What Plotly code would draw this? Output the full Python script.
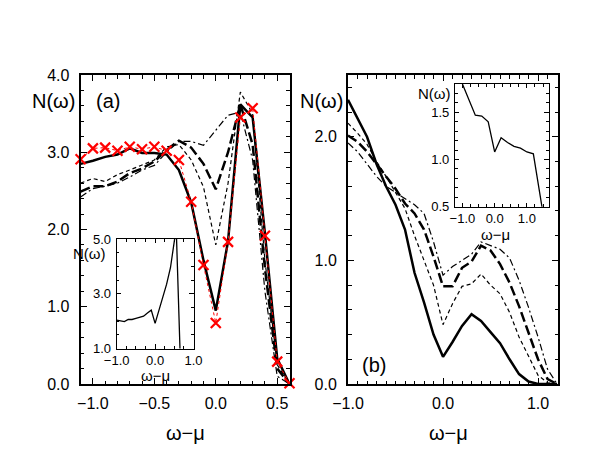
import plotly.graph_objects as go

# panel (a): omega - mu grid and spectral functions
x_a = [-1.1, -1.0, -0.9, -0.8, -0.7, -0.6, -0.5, -0.4, -0.3, -0.2,
       -0.1, 0.0, 0.1, 0.2, 0.3, 0.4, 0.5, 0.6]
a_solid = [2.85, 2.89, 2.94, 2.97, 3.05, 2.99, 2.99, 2.97, 2.77, 2.35,
           1.60, 0.95, 1.85, 3.62, 3.45, 1.95, 0.33, 0.0]
a_longdash = [2.49, 2.56, 2.56, 2.62, 2.73, 2.79, 2.88, 3.03, 3.15, 3.06,
              2.85, 2.52, 3.00, 3.62, 3.10, 1.50, 0.20, 0.0]
a_dash = [2.60, 2.66, 2.62, 2.71, 2.77, 2.83, 2.90, 3.07, 3.10, 2.90,
          2.55, 1.80, 2.60, 3.78, 3.50, 1.60, 0.25, 0.0]
a_dashdot = [2.42, 2.53, 2.56, 2.60, 2.68, 2.77, 2.83, 3.00, 3.14, 3.14,
             3.09, 3.28, 3.48, 3.52, 2.90, 1.20, 0.10, 0.0]
a_cross = [2.91, 3.05, 3.06, 3.02, 3.07, 3.04, 3.07, 3.02, 2.90, 2.36,
           1.54, 0.79, 1.84, 3.45, 3.57, 1.92, 0.29, 0.01]

# inset of (a)
x_ai = [-1.0, -0.9, -0.8, -0.7, -0.6, -0.5, -0.4, -0.3, -0.2, -0.1,
        0.0, 0.1, 0.2, 0.3, 0.4, 0.5, 0.55, 0.65]
y_ai = [2.04, 2.01, 1.98, 2.06, 2.06, 2.10, 2.14, 2.18, 2.30, 2.40,
        1.92, 2.40, 2.85, 3.35, 3.95, 4.95, 5.40, 0.90]

# panel (b)
x_b = [-1.0, -0.9, -0.8, -0.7, -0.6, -0.5, -0.4, -0.3, -0.2, -0.1, 0.0,
       0.1, 0.2, 0.3, 0.4, 0.5, 0.6, 0.7, 0.8, 0.9, 1.0, 1.1, 1.2]
b_solid = [2.30, 2.15, 2.00, 1.78, 1.60, 1.45, 1.25, 0.90, 0.66, 0.40, 0.22,
           0.34, 0.47, 0.565, 0.51, 0.42, 0.33, 0.20, 0.08, 0.02, 0.0, 0.0, 0.0]
b_dash = [2.11, 2.03, 1.94, 1.80, 1.68, 1.55, 1.42, 1.20, 1.00, 0.80, 0.48,
          0.65, 0.79, 0.81, 0.89, 0.80, 0.73, 0.58, 0.38, 0.22, 0.07, 0.01, 0.0]
b_longdash = [2.01, 1.96, 1.88, 1.78, 1.68, 1.58, 1.46, 1.38, 1.25, 1.03, 0.79,
              0.79, 0.94, 0.99, 1.12, 1.08, 0.97, 0.82, 0.63, 0.42, 0.20, 0.04, 0.0]
b_dashdot = [1.95, 1.88, 1.78, 1.68, 1.60, 1.55, 1.50, 1.45, 1.38, 1.15, 0.88,
             0.95, 1.00, 1.05, 1.15, 1.12, 1.09, 1.02, 0.84, 0.62, 0.38, 0.12, 0.0]

# inset of (b)
x_bi = [-1.0, -0.8, -0.6, -0.4, -0.2, 0.0, 0.2, 0.4, 0.6, 0.8, 1.0, 1.2, 1.4, 1.5]
y_bi = [1.80, 1.64, 1.47, 1.46, 1.40, 1.08, 1.23, 1.18, 1.14, 1.12, 1.08, 1.06, 0.64, 0.43]

# tick labels
ticks_a_x = [-1.0, -0.5, 0.0, 0.5]
ticks_a_y = [0.0, 1.0, 2.0, 3.0, 4.0]
ticks_b_x = [-1.0, 0.0, 1.0]
ticks_b_y = [0.0, 1.0, 2.0]
ticks_ai_x = [-1.0, 0.0, 1.0]
ticks_ai_y = [1.0, 3.0, 5.0]
ticks_bi_x = [-1.0, 0.0, 1.0]
ticks_bi_y = [0.5, 1.0, 1.5]

FONT = "Liberation Sans, Arial, sans-serif"
OFF = 8  # page body margin
W, H = 599 - OFF, 463 - OFF

fig = go.Figure()


def px_x(p):
    return (p - OFF) / W


def px_y(p):
    return 1 - (p - OFF) / H


def line(x, y, xa, ya, width, dash="solid", color="black"):
    fig.add_trace(go.Scatter(x=x, y=y, xaxis=xa, yaxis=ya, mode="lines",
                             line=dict(color=color, width=width, dash=dash),
                             showlegend=False, hoverinfo="skip"))


# panel (a)
line(x_a, a_dashdot, "x", "y", 1.2, "7px,3px,2px,3px")
line(x_a, a_dash, "x", "y", 1.2, "4px,3px")
line(x_a, a_longdash, "x", "y", 2.5, "10px,4px")
line(x_a, a_solid, "x", "y", 2.5)
fig.add_trace(go.Scatter(
    x=x_a, y=a_cross, xaxis="x", yaxis="y", mode="lines+markers",
    line=dict(color="red", width=1, dash="dot"),
    marker=dict(symbol="x-thin", size=10, line=dict(color="red", width=2.2)),
    showlegend=False, cliponaxis=False, hoverinfo="skip"))

# panel (b)
line(x_b, b_dashdot, "x2", "y2", 1.2, "7px,3px,2px,3px")
line(x_b, b_dash, "x2", "y2", 1.2, "4px,3px")
line(x_b, b_longdash, "x2", "y2", 2.5, "10px,4px")
line(x_b, b_solid, "x2", "y2", 2.5)

# insets
line(x_ai, y_ai, "x3", "y3", 1.3)
line(x_bi, y_bi, "x4", "y4", 1.3)


def axis(domain, rng, tickvals, anchor, size, lw, ticklen, standoff):
    return dict(domain=domain, range=rng, tickvals=tickvals,
                ticktext=[f"{v:.1f}".replace("-", "\u2212") for v in tickvals],
                anchor=anchor, automargin=False, showgrid=False, zeroline=False,
                showline=True, linecolor="black", linewidth=lw, mirror="allticks",
                ticks="inside", ticklen=ticklen, tickwidth=1, tickcolor="black",
                ticklabelstandoff=standoff,
                tickfont=dict(family=FONT, size=size, color="black"))


def minor_axis(overlay, anchor, rng, dtick, ticklen):
    # unlabeled companion axis carrying the minor ticks on all sides
    return dict(overlaying=overlay, anchor=anchor, range=rng, dtick=dtick, tick0=0,
                automargin=False, showgrid=False, zeroline=False, showline=False,
                showticklabels=False, mirror="ticks", ticks="inside",
                ticklen=ticklen, tickwidth=1, tickcolor="black")


fig.update_layout(
    width=W, height=H,
    margin=dict(l=0, r=0, t=0, b=0, autoexpand=False),
    paper_bgcolor="white", plot_bgcolor="white",
    xaxis=axis([px_x(80.6), px_x(289.5)], [-1.1, 0.6], ticks_a_x, "y", 16, 2, 6, 4),
    yaxis=axis([px_y(384), px_y(75)], [0, 4], ticks_a_y, "x", 16, 2, 6, 6),
    xaxis2=axis([px_x(348), px_x(558)], [-1, 1.21], ticks_b_x, "y2", 16, 2, 6, 4),
    yaxis2=axis([px_y(384), px_y(75)], [0, 2.5], ticks_b_y, "x2", 16, 2, 6, 6),
    xaxis3=axis([px_x(116.7), px_x(193.5)], [-1, 1], ticks_ai_x, "y3", 13, 1.2, 4, 0),
    yaxis3=axis([px_y(348.5), px_y(239)], [1, 5], ticks_ai_y, "x3", 13, 1.2, 4, 2),
    xaxis4=axis([px_x(455), px_x(548.5)], [-1.23, 1.67], ticks_bi_x, "y4", 13, 1.2, 4, 0),
    yaxis4=axis([px_y(206.7), px_y(84)], [0.5, 1.8], ticks_bi_y, "x4", 13, 1.2, 4, 2),
    xaxis5=minor_axis("x", "y5", [-1.1, 0.6], 0.1, 3.5),
    yaxis5=minor_axis("y", "x5", [0, 4], 0.2, 3.5),
    xaxis6=minor_axis("x2", "y6", [-1, 1.21], 0.1, 3.5),
    yaxis6=minor_axis("y2", "x6", [0, 2.5], 0.2, 3.5),
    xaxis7=minor_axis("x3", "y7", [-1, 1], 0.25, 2.5),
    yaxis7=minor_axis("y3", "x7", [1, 5], 0.5, 2.5),
    xaxis8=minor_axis("x4", "y8", [-1.23, 1.67], 0.25, 2.5),
    yaxis8=minor_axis("y4", "x8", [0.5, 1.8], 0.1, 2.5),
)

for k in range(5, 9):
    fig.add_trace(go.Scatter(x=[None], y=[None], xaxis=f"x{k}", yaxis=f"y{k}",
                             mode="lines", showlegend=False, hoverinfo="skip"))


def label(text, px, py, size, xanchor="center"):
    fig.add_annotation(text=text, x=px_x(px), y=px_y(py), xref="paper", yref="paper",
                       xanchor=xanchor, yanchor="middle", showarrow=False,
                       font=dict(family=FONT, size=size, color="black"))


label("N(ω)", 77, 101, 20, "right")
label("(a)", 94, 101, 20, "left")
label("ω−μ", 185, 433, 20)
label("N(ω)", 345, 101, 20, "right")
label("(b)", 360, 365, 20, "left")
label("ω−μ", 448, 433, 20)
label("N(ω)", 108, 253, 15, "right")
label("ω−μ", 155, 375, 15)
label("N(ω)", 453, 93, 15, "right")
label("ω−μ", 495, 234, 15)

fig.write_html("out.html")
